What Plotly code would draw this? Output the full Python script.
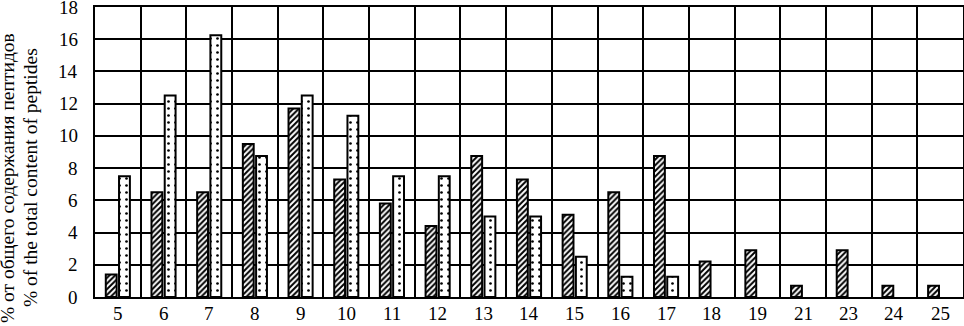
import plotly.graph_objects as go

categories = ["5", "6", "7", "8", "9", "10", "11", "12", "13", "14", "15", "16", "17", "18", "19", "21", "23", "24", "25"]
series_a = [1.4, 6.5, 6.5, 9.5, 11.7, 7.3, 5.8, 4.4, 8.75, 7.3, 5.1, 6.5, 8.75, 2.2, 2.9, 0.7, 2.9, 0.7, 0.7]
series_b = [7.5, 12.5, 16.25, 8.75, 12.5, 11.25, 7.5, 7.5, 5.0, 5.0, 2.5, 1.25, 1.25, 0, 0, 0, 0, 0, 0]
y_ticks = [0, 2, 4, 6, 8, 10, 12, 14, 16, 18]
y_title_lines = ["% от общего содержания пептидов", "% of the total content of peptides"]

FAMILY = "Liberation Serif"
tick_font = dict(family=FAMILY, size=19, color="black")

fig = go.Figure()
fig.add_trace(go.Bar(
    x=categories, y=series_a,
    marker=dict(color="white", line=dict(color="black", width=2),
                pattern=dict(shape="/", fgcolor="black", bgcolor="white", size=4, solidity=0.5)),
))
fig.add_trace(go.Bar(
    x=categories, y=[v if v > 0 else None for v in series_b],
    marker=dict(color="white", line=dict(color="black", width=2),
                pattern=dict(shape=".", fgcolor="black", bgcolor="white", size=7, solidity=0.12)),
))

annotations = []
# y-axis title (two lines)
for text, xs in zip(y_title_lines, [-88, -65]):
    annotations.append(dict(
        text=text, textangle=-90, xref="paper", yref="paper",
        x=0, y=0.41, xanchor="center", yanchor="middle", xshift=xs,
        showarrow=False, font=dict(family=FAMILY, size=19.5, color="black"),
    ))
# y tick labels
for v in y_ticks:
    annotations.append(dict(
        text=str(v), xref="paper", yref="y", x=0, y=v,
        xanchor="right", yanchor="middle", xshift=-15,
        showarrow=False, font=tick_font,
    ))
# x tick labels (category axis: position by category index)
for i, c in enumerate(categories):
    annotations.append(dict(
        text=c, xref="x", yref="paper", x=i, y=0,
        xanchor="center", yanchor="top", yshift=-4,
        showarrow=False, font=tick_font,
    ))

fig.update_layout(
    template="none",
    width=964, height=326,
    margin=dict(l=95, r=1, t=7, b=29, autoexpand=False),
    paper_bgcolor="white", plot_bgcolor="white",
    barmode="group", bargap=0.42, bargroupgap=0.18,
    showlegend=False,
    font=dict(family=FAMILY, size=19, color="black"),
    annotations=annotations,
    xaxis=dict(
        type="category", categoryorder="array", categoryarray=categories,
        range=[-0.5, len(categories) - 0.5], tickson="boundaries",
        showgrid=True, gridcolor="black", gridwidth=2,
        showline=True, linecolor="black", linewidth=2, mirror=True,
        ticks="", showticklabels=False,
    ),
    yaxis=dict(
        range=[0, 18], tickmode="array", tickvals=y_ticks,
        showgrid=True, gridcolor="black", gridwidth=2,
        showline=True, linecolor="black", linewidth=2, mirror=True,
        zeroline=False, ticks="", showticklabels=False,
    ),
)
fig.write_html("out.html", config={"displayModeBar": False},
               post_script="document.body.style.margin='0';document.body.style.padding='0';")
